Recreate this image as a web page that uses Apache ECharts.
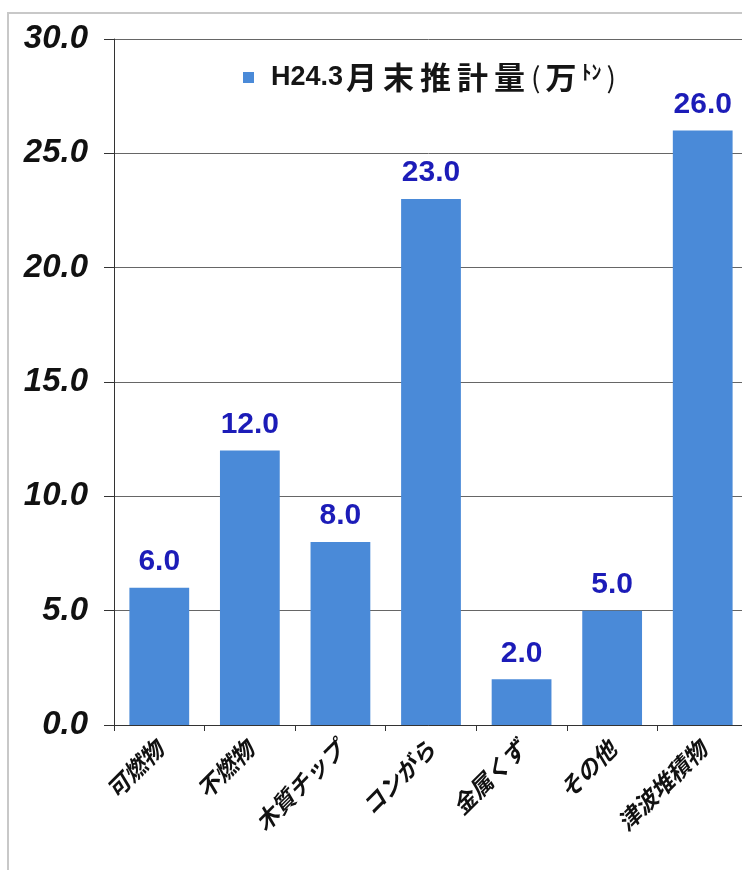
<!DOCTYPE html>
<html>
<head>
<meta charset="utf-8">
<script src="https://cdn.jsdelivr.net/npm/echarts@6/dist/echarts.min.js"></script>
<style>
  html, body { margin: 0; padding: 0; background: #fff; }
  #frame { position: absolute; left: 7px; top: 12px; width: 760px; height: 870px;
           border-left: 2px solid #c8c8c8; border-top: 2px solid #c8c8c8; }
  #chart { position: absolute; left: 0; top: 0; width: 742px; height: 870px; }
</style>
</head>
<body>
<div id="frame"></div>
<div id="chart"></div>
<script>
// Estimated debris amounts at end of March H24 (10k tonnes)
const categories = ['可燃物', '不燃物', '木質チップ', 'コンがら', '金属くず', 'その他', '津波堆積物'];
const estimates = [6.0, 12.0, 8.0, 23.0, 2.0, 5.0, 26.0];
const seriesName = 'H24.3月末推計量';
const yTicks = { min: 0, max: 30, interval: 5 };

const chart = echarts.init(document.getElementById('chart'), null, { renderer: 'canvas' });

// one rich token per kanji so the spacing between them can be widened
function spacedKanji(text) {
  return Array.from(text).map(function (ch) { return '{cjk|' + ch + '}'; }).join('');
}

chart.setOption({
  animation: false,
  backgroundColor: 'transparent',
  legend: {
    data: [seriesName],
    left: 238,
    top: 57,
    itemWidth: 11,
    itemHeight: 11,
    itemGap: 3,
    icon: 'rect',
    formatter: function (name) {
      const latin = name.match(/^[A-Za-z0-9.]+/)[0];
      const kanji = name.slice(latin.length);
      return '{lat|' + latin + '}' + spacedKanji(kanji) +
        '{par|(}' + spacedKanji('万') + '{small|ﾄﾝ}{par|)}';
    },
    textStyle: {
      rich: {
        lat: { fontFamily: 'Liberation Sans', fontSize: 27, fontWeight: 'bold', color: '#151515', padding: [0, 0, 0, 12] },
        cjk: { fontFamily: 'Noto Sans CJK JP', fontSize: 31, fontWeight: 'bold', color: '#151515', padding: [0, 3, 0, 3] },
        par: { fontFamily: 'Noto Sans CJK JP', fontSize: 28, fontWeight: 'normal', color: '#151515', padding: [0, 2, 0, 3] },
        small: { fontFamily: 'Noto Sans CJK JP', fontSize: 20, fontWeight: 'bold', color: '#151515', verticalAlign: 'top', padding: [0, 2, 10, 2] }
      }
    }
  },
  grid: { left: 114, top: 39, width: 634, bottom: 145, containLabel: false, outerBoundsMode: 'none' },
  xAxis: {
    type: 'category',
    data: categories,
    axisLine: { lineStyle: { color: '#333', width: 1 } },
    axisTick: { show: true, alignWithLabel: false, length: 6, lineStyle: { color: '#333' } },
    axisLabel: {
      rotate: 45,
      interval: 0,
      margin: 20,
      fontFamily: 'Noto Sans CJK JP',
      fontSize: 23,
      fontWeight: 'bold',
      fontStyle: 'italic',
      color: '#111'
    }
  },
  yAxis: {
    type: 'value',
    min: yTicks.min,
    max: yTicks.max,
    interval: yTicks.interval,
    axisLine: { show: true, lineStyle: { color: '#333', width: 1 } },
    axisTick: { show: true, inside: false, length: 10, lineStyle: { color: '#333' } },
    axisLabel: {
      margin: 26,
      formatter: function (v) { return v.toFixed(1); },
      fontFamily: 'Liberation Sans',
      fontSize: 33,
      fontWeight: 'bold',
      fontStyle: 'italic',
      color: '#111'
    },
    splitLine: { show: true, lineStyle: { color: '#666', width: 1, type: 'solid' } }
  },
  series: [{
    name: seriesName,
    type: 'bar',
    data: estimates,
    barCategoryGap: '34%',
    itemStyle: { color: '#4a8ad8' },
    label: {
      show: true,
      position: 'top',
      distance: 11,
      formatter: function (p) { return p.value.toFixed(1); },
      fontFamily: 'Liberation Sans',
      fontSize: 30,
      fontWeight: 'bold',
      color: '#1c1cb8'
    }
  }]
});
</script>
</body>
</html>
